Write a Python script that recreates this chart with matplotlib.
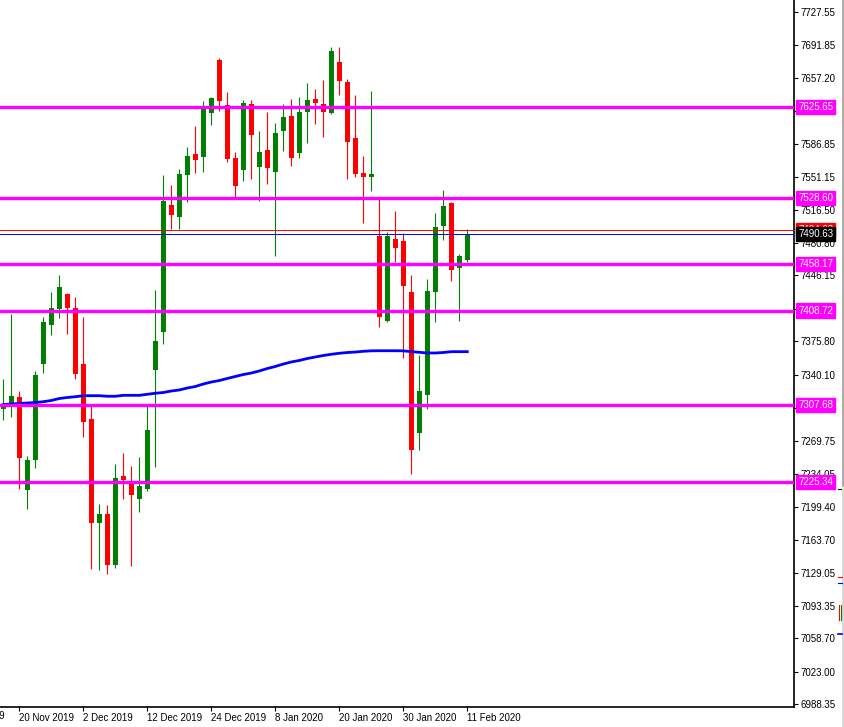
import numpy as np
import matplotlib
matplotlib.use("Agg")
import matplotlib.pyplot as plt
import matplotlib.transforms as mtransforms
from matplotlib.lines import Line2D

# ---------- data (FTSE 100 daily, 18 Nov 2019 - 11 Feb 2020) ----------
opens = [7303.3, 7309.7, 7316.7, 7217.1, 7249.2, 7352.0, 7393.6, 7410.3, 7426.4, 7411.4,
         7351.6, 7292.9, 7181.6, 7191.5, 7137.4, 7232.1, 7223.5, 7207.5, 7218.2, 7345.6,
         7386.1, 7521.4, 7508.9, 7553.7, 7575.8, 7572.9, 7619.9, 7676.1, 7627.8, 7571.5,
         7559.0, 7629.2, 7562.2, 7580.1, 7556.9, 7600.7, 7616.4, 7577.2, 7621.0, 7634.5,
         7629.2, 7619.6, 7674.0, 7652.7, 7592.9, 7555.5, 7551.6, 7488.3, 7397.5, 7485.1,
         7482.9, 7428.5, 7278.3, 7318.9, 7428.8, 7499.3, 7523.5, 7454.4, 7463.0]
closes = [7307.1, 7317.5, 7251.6, 7249.2, 7339.9, 7396.5, 7411.4, 7433.8, 7411.4, 7341.0,
          7290.0, 7181.6, 7191.5, 7137.4, 7229.9, 7227.5, 7211.8, 7221.4, 7281.2, 7376.2,
          7525.6, 7511.0, 7554.5, 7573.7, 7569.7, 7623.8, 7635.6, 7632.7, 7570.8, 7542.0,
          7630.2, 7596.4, 7577.9, 7561.2, 7598.2, 7615.3, 7571.9, 7620.6, 7633.4, 7630.2,
          7621.0, 7685.8, 7654.0, 7588.9, 7554.8, 7551.6, 7554.8, 7402.1, 7488.3, 7475.8,
          7435.2, 7260.2, 7322.8, 7429.6, 7497.9, 7520.3, 7452.3, 7466.9, 7490.63]
highs = [7335.3, 7405.0, 7322.8, 7253.4, 7344.2, 7401.5, 7428.5, 7446.6, 7427.7, 7423.2,
         7401.8, 7307.1, 7202.5, 7201.1, 7244.9, 7257.0, 7242.8, 7252.4, 7307.1, 7430.6,
         7553.4, 7542.7, 7559.8, 7583.3, 7605.7, 7632.4, 7636.7, 7678.3, 7642.0, 7577.9,
         7633.4, 7633.4, 7600.4, 7620.6, 7608.9, 7629.2, 7634.5, 7636.7, 7651.6, 7645.2,
         7654.8, 7690.0, 7690.0, 7655.9, 7638.8, 7574.0, 7643.4, 7528.5, 7492.5, 7515.0,
         7491.2, 7446.6, 7361.2, 7442.4, 7512.8, 7537.4, 7524.6, 7469.1, 7495.4]
lows = [7291.9, 7295.4, 7218.2, 7196.9, 7240.9, 7342.4, 7382.9, 7401.1, 7384.0, 7335.9,
        7274.0, 7132.8, 7132.1, 7127.8, 7133.9, 7207.5, 7136.3, 7193.7, 7216.4, 7242.0,
        7373.3, 7495.4, 7495.4, 7524.9, 7555.5, 7556.9, 7606.8, 7622.0, 7567.6, 7530.2,
        7547.3, 7549.4, 7526.0, 7544.1, 7467.2, 7579.0, 7563.3, 7571.9, 7587.9, 7608.2,
        7594.3, 7618.5, 7638.8, 7549.4, 7551.6, 7502.5, 7536.6, 7391.5, 7396.5, 7460.8,
        7358.4, 7234.5, 7260.2, 7303.9, 7396.8, 7484.3, 7440.6, 7397.9, 7460.5]
ma = [7308.4, 7308.9, 7309.5, 7310.0, 7310.5, 7311.4, 7312.7, 7314.8, 7315.9, 7316.7,
      7317.8, 7317.8, 7317.8, 7317.2, 7317.2, 7318.2, 7318.2, 7318.2, 7319.3, 7320.4,
      7321.2, 7322.8, 7323.9, 7326.0, 7327.6, 7330.3, 7332.4, 7334.0, 7336.2, 7338.3,
      7340.4, 7342.0, 7344.2, 7346.8, 7349.0, 7351.6, 7353.8, 7355.4, 7357.5, 7359.1,
      7360.7, 7362.0, 7363.1, 7363.9, 7364.4, 7365.2, 7365.7, 7365.8, 7365.8, 7365.8,
      7365.7, 7364.8, 7364.1, 7363.4, 7363.4, 7363.9, 7364.8, 7364.8, 7364.8]

level_prices = [7625.65, 7528.60, 7458.17, 7408.72, 7307.68, 7225.34]
bid = 7490.63
ask = 7494.63

price_ticks = [7727.55, 7691.85, 7657.20, 7621.50, 7586.85, 7551.15, 7516.50, 7480.80,
               7446.15, 7410.45, 7375.80, 7340.10, 7304.40, 7269.75, 7234.05, 7199.40,
               7163.70, 7129.05, 7093.35, 7058.70, 7023.00, 6988.35]

# bar index of each date label (0 = 18 Nov 2019)
date_idx = [2, 10, 18, 26, 34, 42, 50, 58]
date_labels = ["20 Nov 2019", "2 Dec 2019", "12 Dec 2019", "24 Dec 2019",
               "8 Jan 2020", "20 Jan 2020", "30 Jan 2020", "11 Feb 2020"]

GREEN = "#008000"
RED = "#FF0000"
MAGENTA = "#FF00FF"
BLUE = "#0000FF"
FONT = "Liberation Sans"
FS = 7

fig = plt.figure(figsize=(8.45, 7.27), dpi=100, facecolor="white")
ax = fig.add_axes([0, 20 / 727, 794 / 845, 707 / 727])
ax.set_facecolor("white")

x = np.arange(len(opens))
o = np.array(opens)
c = np.array(closes)
up = c >= o
colors = np.where(up, GREEN, RED)

# wicks + bodies
ax.vlines(x, lows, highs, colors=colors, linewidth=0.8, zorder=2)
body_lo = np.minimum(o, c)
body_h = np.maximum(np.abs(c - o), 1.2)
ax.bar(x, body_h, bottom=body_lo, width=0.62, color=colors, linewidth=0, zorder=3)

# moving average
ax.plot(x, ma, color=BLUE, linewidth=2.0, zorder=4)

# support / resistance levels
for p in level_prices:
    ax.axhline(p, color=MAGENTA, linewidth=2.4, zorder=5)

ax.axhline(ask, color=RED, linewidth=0.7, zorder=5)
ax.axhline(bid, color=BLUE, linewidth=0.7, zorder=5)

ax.set_xlim(-0.41, 98.84)
ax.set_ylim(6985.5, 7740.2)

# axes look (MT4 style)
for s in ["left", "top"]:
    ax.spines[s].set_visible(False)
ax.spines["right"].set_linewidth(1.2)
ax.spines["bottom"].set_linewidth(1.2)
ax.yaxis.tick_right()
ax.set_yticks(price_ticks)
ax.set_yticklabels([f"{p:.2f}" for p in price_ticks], fontsize=FS, family=FONT)
ax.tick_params(axis="y", direction="out", length=3, width=0.8, pad=2)
ax.set_xticks(date_idx)
ax.set_xticklabels(date_labels, fontsize=FS, family=FONT, ha="left")
ax.tick_params(axis="x", direction="out", length=3, width=0.8, pad=1)

# cut off label on the far left
ax.text(-6, -0.006, "8 Nov 2019", transform=mtransforms.blended_transform_factory(ax.transData, ax.transAxes),
        ha="left", va="top", fontsize=FS, family=FONT, clip_on=False)

# price labels on the right axis
def price_box(p, face, txt_color="white"):
    ax.annotate(f"{p:.2f}", xy=(1, p), xycoords=("axes fraction", "data"),
                xytext=(4, 0), textcoords="offset pixels", ha="left", va="center",
                fontsize=FS, family=FONT, color=txt_color, zorder=10,
                bbox=dict(boxstyle="square,pad=0.22", facecolor=face, edgecolor=face),
                annotation_clip=False)

for p in level_prices:
    price_box(p, MAGENTA)
price_box(ask, RED)
price_box(bid, "black")

# neighbouring window edge at far right
def px_line(x0, y0, x1, y1, color, lw):
    fig.add_artist(Line2D([x0 / 845, x1 / 845], [1 - y0 / 727, 1 - y1 / 727], color=color, linewidth=lw))

px_line(843.5, 0, 843.5, 485, "#A8A8A8", 2.0)
px_line(838, 489, 845, 489, "black", 0.8)
px_line(843.5, 490, 843.5, 727, "#D8D8D8", 1.5)
px_line(838, 577, 842, 577, RED, 0.8)
px_line(838, 583, 842, 583, BLUE, 0.8)
px_line(839.5, 605, 839.5, 620, RED, 0.8)
px_line(841.5, 605, 841.5, 620, GREEN, 0.8)
px_line(838, 634, 842, 634, BLUE, 1.2)

fig.savefig("out.png", dpi=100, facecolor="white")
